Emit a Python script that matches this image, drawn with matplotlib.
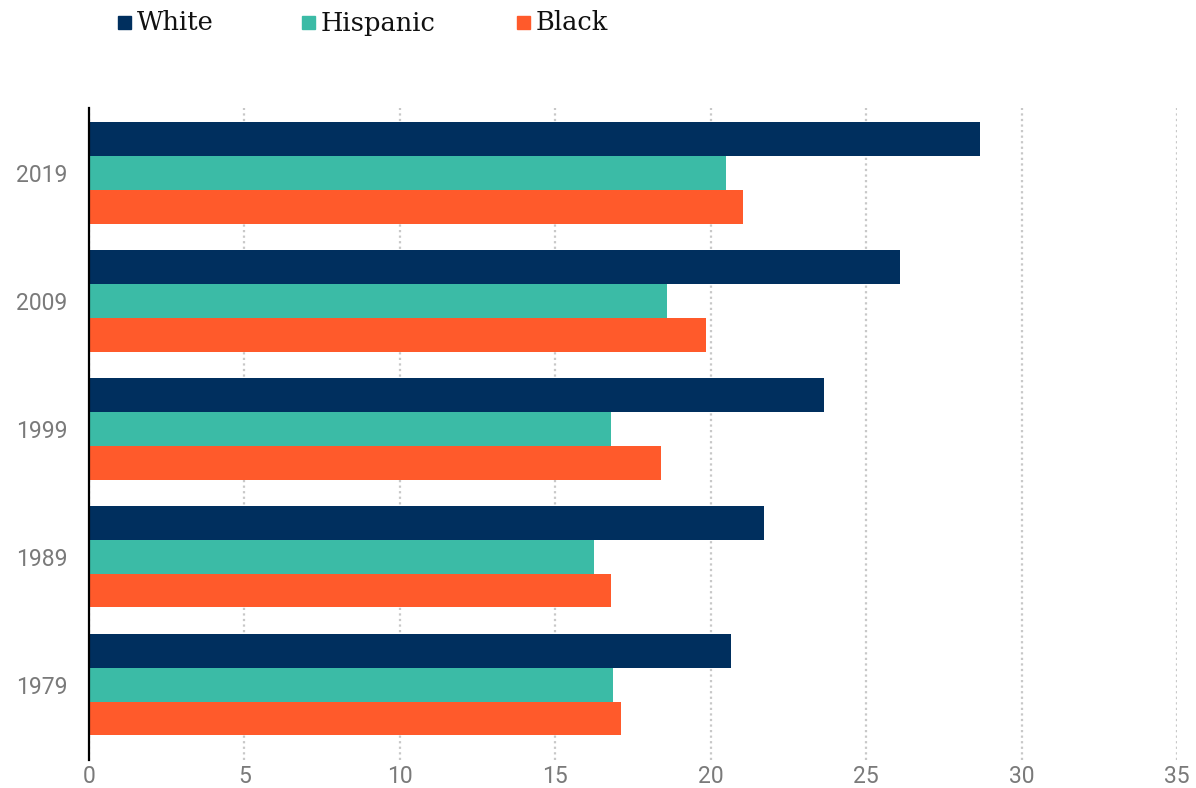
import numpy as np
import matplotlib.pyplot as plt
from matplotlib.patches import Rectangle

years = ["1979", "1989", "1999", "2009", "2019"]
white = [20.65, 21.7, 23.65, 26.1, 28.65]
hispanic = [16.85, 16.25, 16.8, 18.6, 20.5]
black = [17.1, 16.8, 18.4, 19.85, 21.05]

series_names = ["White", "Hispanic", "Black"]
colors = ["#002F5E", "#3BBBA6", "#FF5A2B"]

fig = plt.figure(figsize=(11.96, 7.88), dpi=100)
ax = fig.add_axes([0.0744, 0.035, 0.9097, 0.828])

y = np.arange(len(years))
h = 0.265
ax.barh(y + h, white, height=h, color=colors[0], zorder=3)
ax.barh(y, hispanic, height=h, color=colors[1], zorder=3)
ax.barh(y - h, black, height=h, color=colors[2], zorder=3)

ax.set_xlim(0, 35)
ax.set_ylim(-0.593, 4.507)
ax.set_xticks(range(0, 36, 5))
ax.set_yticks(y)
ax.set_yticklabels(years)

# dotted vertical gridlines only
ax.grid(axis="x", color="#c8c8c8", linestyle=(0, (1, 1.5)), linewidth=1.6, zorder=0)
ax.grid(axis="y", visible=False)

for side in ["top", "right", "bottom"]:
    ax.spines[side].set_visible(False)
ax.spines["left"].set_color("black")
ax.spines["left"].set_linewidth(1.6)
ax.spines["left"].set_zorder(4)

ax.tick_params(axis="both", length=0, labelsize=16.5, labelcolor="#7a7a7a")
ax.tick_params(axis="x", pad=3.5)
ax.tick_params(axis="y", pad=15.5)
for lbl in ax.get_xticklabels() + ax.get_yticklabels():
    lbl.set_fontfamily("Roboto")

# legend along the top
legend_x = [118, 302, 517]
W, H = 1196, 788
for name, col, px in zip(series_names, colors, legend_x):
    fig.add_artist(Rectangle((px / W, 1 - 29 / H), 13 / W, 13 / H,
                             transform=fig.transFigure, color=col))
    fig.text((px + 19) / W, 1 - 23 / H, name, fontsize=18.5,
             family="DejaVu Serif", color="#111111", va="center", ha="left")

fig.savefig("out.png", dpi=100)
